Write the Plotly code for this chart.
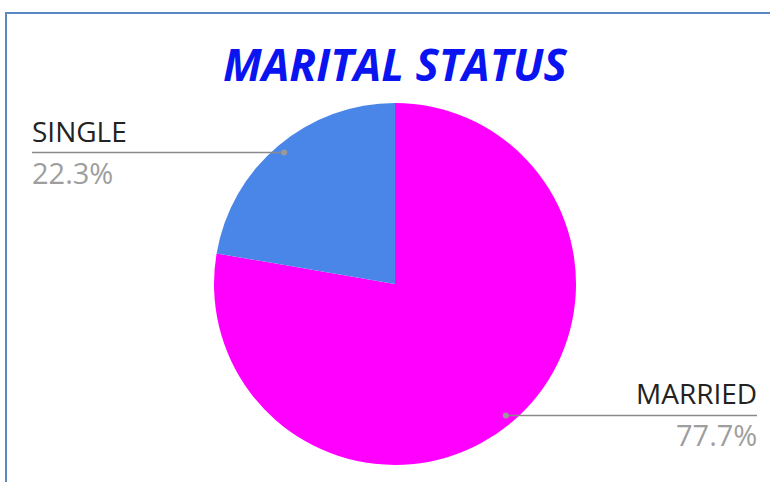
import math
import plotly.graph_objects as go

# Marital status breakdown
labels = ["MARRIED", "SINGLE"]
values = [77.7, 22.3]
colors = ["#ff00ff", "#4a86e8"]
title_text = "MARITAL STATUS"

W, H = 770, 482
cx, cy, r = 395, 284, 181  # pie centre and radius in pixels

fig = go.Figure(go.Pie(
    labels=labels,
    values=values,
    sort=False,
    direction="clockwise",
    rotation=0,
    marker=dict(colors=colors, line=dict(width=0)),
    textinfo="none",
    hoverinfo="label+percent",
    showlegend=False,
    domain=dict(x=[(cx - r) / W, (cx + r) / W], y=[1 - (cy + r) / H, 1 - (cy - r) / H]),
))

def px(x):
    return x / W

def py(y):
    return 1 - y / H

shapes = [
    # outer frame (top and left edges visible)
    dict(type="rect", xref="paper", yref="paper", x0=px(6), y0=-0.1, x1=1.1, y1=py(13),
         line=dict(color="#5b87c5", width=2), fillcolor="rgba(0,0,0,0)", layer="below"),
]
annotations = [
    dict(text=f"<b><i>{title_text}</i></b>", x=px(395), y=py(64), xref="paper", yref="paper",
         showarrow=False, xanchor="center", yanchor="middle",
         font=dict(family="Open Sans", size=44, color="#0a14f0")),
]

# Leader lines from each slice's mid-angle out to the label
total = sum(values)
cum = 0.0
for lab, val in zip(labels, values):
    frac_mid = (cum + val / 2) / total
    cum += val
    ang = math.radians(90 - 360 * frac_mid)  # slices run clockwise from 12 o'clock
    dx = cx + 0.95 * r * math.cos(ang)
    dy = cy - 0.95 * r * math.sin(ang)
    left = math.cos(ang) < 0
    end_x = 32 if left else 757
    shapes.append(dict(type="line", xref="paper", yref="paper",
                       x0=px(dx), y0=py(dy), x1=px(end_x), y1=py(dy),
                       line=dict(color="#8a8a8a", width=1.5)))
    shapes.append(dict(type="circle", xref="paper", yref="paper",
                       x0=px(dx - 3), y0=py(dy - 3), x1=px(dx + 3), y1=py(dy + 3),
                       line=dict(width=0), fillcolor="#9a9a9a"))
    anchor = "left" if left else "right"
    tx = px(end_x + (-2 if left else 2))
    annotations.append(dict(text=lab, x=tx, y=py(dy - 1), xref="paper", yref="paper",
                            showarrow=False, xanchor=anchor, yanchor="bottom",
                            font=dict(family="Open Sans", size=28, color="#222222")))
    annotations.append(dict(text=f"{val:.1f}%", x=tx, y=py(dy - 2), xref="paper", yref="paper",
                            showarrow=False, xanchor=anchor, yanchor="top",
                            font=dict(family="Open Sans", size=29, color="#9e9e9e")))

fig.update_layout(
    width=W, height=H,
    margin=dict(l=0, r=0, t=0, b=0),
    paper_bgcolor="white",
    plot_bgcolor="white",
    shapes=shapes,
    annotations=annotations,
)

fig.write_html("out.html")
